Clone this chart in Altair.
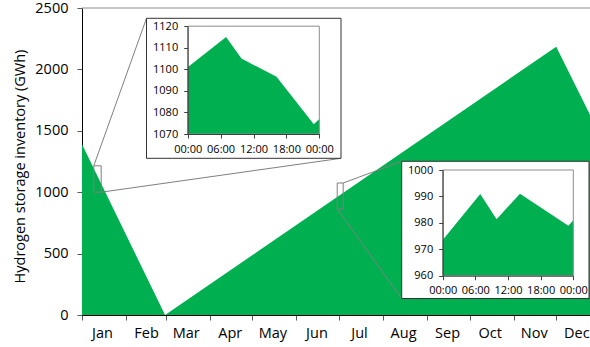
import altair as alt
import pandas as pd

# Annual hydrogen storage inventory: day of year (0 = 1 Jan 00:00) and GWh
inv_day = [0, 58.5, 333.9, 357.7]
inv_gwh = [1390, 0, 2185, 1630]

month_starts = [0, 31, 59, 90, 120, 151, 181, 212, 243, 273, 304, 334]
month_names = ["Jan", "Feb", "Mar", "Apr", "May", "Jun",
               "Jul", "Aug", "Sep", "Oct", "Nov", "Dec"]
gwh_ticks = [0, 500, 1000, 1500, 2000, 2500]

# Hourly profile of one January day
jan_hour = [0, 7.0, 9.8, 16.2, 23.0, 24]
jan_gwh = [1101, 1115, 1105, 1096.5, 1074.5, 1077]
jan_ticks = [1070, 1080, 1090, 1100, 1110, 1120]

# Hourly profile of one day at the end of June
jul_hour = [0, 6.9, 9.9, 14.2, 23.1, 24]
jul_gwh = [973.5, 990.9, 981.4, 991, 978.9, 981]
jul_ticks = [960, 970, 980, 990, 1000]

hour_ticks = [0, 6, 12, 18, 24]

# Windows highlighted on the annual curve: day from, day to, GWh from, GWh to
jan_window = [8.3, 13.5, 1000, 1215]
jul_window = [179.7, 183.9, 863, 1075]

GREEN = "#00B050"
FONT = "Open Sans"

# plot area size in pixels and the last visible day
W, H = 508, 307
X_MAX = 357.7
Y_MAX = 2500


def px(day):
    return day * W / X_MAX


def py(v):
    return H * (1 - v / Y_MAX)


# ---- annual chart -------------------------------------------------------
main_df = pd.DataFrame({"day": inv_day, "gwh": inv_gwh})
windows_df = pd.DataFrame(
    [jan_window, jul_window], columns=["d0", "d1", "g0", "g1"]
)

month_expr = "{}[indexof({}, datum.value)]".format(month_names, month_starts)

x_main = alt.X(
    "day:Q",
    scale=alt.Scale(domain=[0, X_MAX], nice=False, zero=False),
    axis=alt.Axis(
        orient="bottom", values=month_starts, labelExpr=month_expr,
        labelOffset=20, labelPadding=6, labelFontSize=14.5,
        labelColor="#000", labelFlush=False, labelOverlap=False,
        tickSize=5, tickColor="#595959", domainColor="#000", title=None,
    ),
)
y_main = alt.Y(
    "gwh:Q",
    scale=alt.Scale(domain=[0, Y_MAX], nice=False),
    axis=alt.Axis(
        orient="left", values=gwh_ticks, format="d", labelPadding=9,
        labelFontSize=14.5, labelColor="#000", labelFlush=False,
        tickSize=5, tickColor="#595959",
        domainColor="#000", title="Hydrogen storage inventory (GWh)",
        titleFontSize=14.5, titleFontWeight="normal", titleColor="#000",
        titleX=-62, titleY=158, titleBaseline="middle",
    ),
)

area = alt.Chart(main_df).mark_area(color=GREEN).encode(x=x_main, y=y_main)

top_line = alt.Chart(pd.DataFrame({"gwh": [Y_MAX]})).mark_rule(
    color="#8c8c8c", strokeWidth=1
).encode(y="gwh:Q")

window_marks = alt.Chart(windows_df).mark_rect(
    fillOpacity=0, stroke="#7f7f7f", strokeWidth=1
).encode(x="d0:Q", x2="d1", y="g0:Q", y2="g1")

annual = alt.layer(area, top_line, window_marks)

# ---- inset boxes (pixel positions inside the plot area) -----------------
box1 = dict(x=64.5, y=10.3, x2=259.0, y2=150.3)
box2 = dict(x=319.7, y=153.3, x2=507.0, y2=290.5)


def connector(x1, y1, x2, y2):
    return alt.Chart(pd.DataFrame({"k": [0]})).mark_rule(
        color="#7f7f7f", strokeWidth=1
    ).encode(x=alt.value(x1), y=alt.value(y1), x2=alt.value(x2), y2=alt.value(y2))


connectors = [
    connector(px(jan_window[0]), py(jan_window[3]), box1["x"], box1["y"]),
    connector(px(jan_window[1]), py(jan_window[2]), box1["x2"], box1["y2"]),
    connector(px(jul_window[1]), py(jul_window[3]), box2["x"], box2["y"]),
    connector(px(jul_window[0]), py(jul_window[2]), box2["x"], box2["y2"]),
]


def box(b):
    return alt.Chart(pd.DataFrame({"k": [0]})).mark_rect(
        fill="white", stroke="#333333", strokeWidth=1
    ).encode(
        x=alt.value(b["x"]), x2=alt.value(b["x2"]),
        y=alt.value(b["y"]), y2=alt.value(b["y2"]),
    )


hour_expr = "(datum.value % 24 < 10 ? '0' : '') + (datum.value % 24) + ':00'"


def inset(hours, values, ticks, x_range, y_range, b):
    df = pd.DataFrame({"hour": hours, "gwh": values})
    lo, hi = ticks[0], ticks[-1]
    x = alt.X(
        "hour:Q",
        scale=alt.Scale(domain=[0, 24], range=x_range, nice=False, zero=False),
        axis=alt.Axis(
            orient="bottom", values=hour_ticks, labelExpr=hour_expr,
            offset=y_range[0] - H, labelFontSize=11, labelColor="#000",
            labelPadding=5, labelFlush=False, labelOverlap=False,
            tickSize=4, tickColor="#404040", domainColor="#404040",
            zindex=1, title=None,
        ),
    )
    y = alt.Y(
        "gwh:Q",
        scale=alt.Scale(domain=[lo, hi], range=y_range, nice=False, zero=False),
        axis=alt.Axis(
            orient="left", values=ticks, format="d", offset=-x_range[0],
            labelFontSize=11, labelColor="#000", labelPadding=6,
            labelFlush=False, labelOverlap=False, tickSize=4,
            tickColor="#404040", domainColor="#404040", zindex=1, title=None,
        ),
    )
    fill = alt.Chart(df).mark_area(color=GREEN).encode(
        x=x, y=y, y2=alt.datum(lo)
    )
    frame = alt.Chart(pd.DataFrame({"h0": [0], "h1": [24], "g0": [lo], "g1": [hi]})).mark_rect(
        fillOpacity=0, stroke="#8c8c8c", strokeWidth=1
    ).encode(x="h0:Q", x2="h1", y="g0:Q", y2="g1")
    return alt.layer(box(b), fill, frame)


jan_inset = inset(jan_hour, jan_gwh, jan_ticks, [105.7, 237.3], [126.0, 18.2], box1)
jul_inset = inset(jul_hour, jul_gwh, jul_ticks, [360.7, 491.3], [267.7, 162.0], box2)

chart = (
    alt.layer(annual, *connectors, jan_inset, jul_inset)
    .resolve_scale(x="independent", y="independent")
    .properties(
        width=W, height=H,
        padding={"left": 82, "top": 8, "right": 0, "bottom": 32},
        autosize=alt.AutoSizeParams(type="none"),
        background="white",
    )
    .configure_view(stroke=None)
    .configure_axis(grid=False, labelFont=FONT, titleFont=FONT)
)

chart.save("out.html", embed_options={"renderer": "svg", "actions": False})
